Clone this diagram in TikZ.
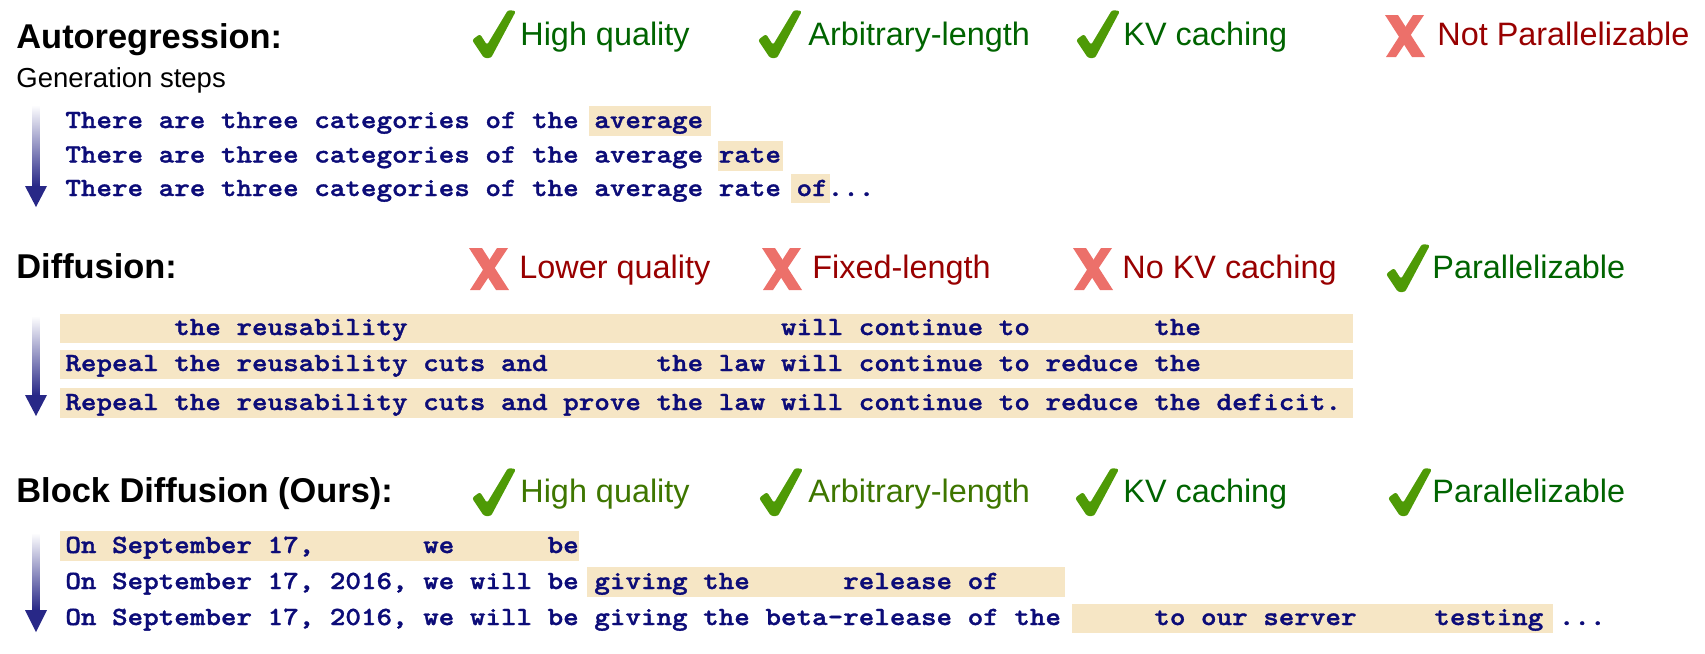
\documentclass[tikz,border=0pt]{standalone}
\usepackage{fontspec}
\setmainfont{Liberation Sans}
\newfontfamily\tokfont{lmmonolt10-bold.otf}[FakeStretch=1.131,FakeBold=1.3,WordSpace={1,0,0},PunctuationSpace=0]

\definecolor{okgreen}{RGB}{78,154,6}
\definecolor{nored}{RGB}{236,112,106}
\definecolor{protext}{RGB}{0,100,0}
\definecolor{olivetext}{RGB}{62,118,0}
\definecolor{context}{RGB}{152,0,0}
\definecolor{hlbox}{RGB}{246,230,197}
\definecolor{tokblue}{RGB}{12,12,120}
\definecolor{arrowblue}{RGB}{40,40,135}

\begin{document}
\begin{tikzpicture}[
    x=0.5pt, y=-0.5pt,
    every node/.style={inner sep=0pt, anchor=base west},
    heading/.style={font=\fontsize{17.2pt}{20pt}\selectfont\bfseries},
    pro/.style={font=\fontsize{16.2pt}{19pt}\selectfont, text=protext},
    con/.style={font=\fontsize{16.2pt}{19pt}\selectfont, text=context},
    tokens/.style={font=\tokfont\fontsize{13.1pt}{15pt}\selectfont\frenchspacing, text=tokblue},
    hl/.style={fill=hlbox},
    okmark/.pic={
        \fill[okgreen, rounded corners=1.2pt] (0,31) -- (8,25) -- (15,36) -- (36,1) -- (44,2) -- (19,49) -- (12,49) -- cycle;
    },
    nomark/.pic={
        \fill[nored] (0,0) -- (13,0) -- (40,42) -- (27,42) -- cycle;
        \fill[nored] (28,0) -- (39,0) -- (11,42) -- (1,42) -- cycle;
    }
]
    \useasboundingbox (0,0) rectangle (1705,654);

    % Autoregression
    \node[heading] (arHead) at (16,48) {Autoregression:};
    \node[font=\fontsize{13.75pt}{16pt}\selectfont] (genSteps) at (16,87) {Generation steps};
    \pic at (472,9) {okmark};   \node[pro] (arQual) at (520,45) {High quality};
    \pic at (758,9) {okmark};   \node[pro] (arLen) at (808,45) {Arbitrary-length};
    \pic at (1076,9) {okmark};  \node[pro] (arKV) at (1123,45) {KV caching};
    \pic at (1385,15) {nomark}; \node[con] (arPar) at (1437,45) {Not Parallelizable};

    \fill[hl] (589,106) rectangle (711,136);
    \fill[hl] (718,141) rectangle (783,171);
    \fill[hl] (791,174) rectangle (830,203);
    \node[tokens] (ar1) at (65,128) {There are three categories of the average};
    \node[tokens] (ar2) at (65,162.5) {There are three categories of the average rate};
    \node[tokens] (ar3) at (65,196) {There are three categories of the average rate of...};

    % Diffusion
    \node[heading] (dfHead) at (16,278) {Diffusion:};
    \pic at (469,248) {nomark};  \node[con] (dfQual) at (519,278) {Lower quality};
    \pic at (762,248) {nomark};  \node[con] (dfLen) at (812,278) {Fixed-length};
    \pic at (1073,248) {nomark}; \node[con] (dfKV) at (1122,278) {No KV caching};
    \pic at (1386,243) {okmark}; \node[pro] (dfPar) at (1432,278) {Parallelizable};

    \fill[hl] (60,314) rectangle (1353,343);
    \fill[hl] (60,350) rectangle (1353,379);
    \fill[hl] (60,388) rectangle (1353,418);
    \node[tokens] (df1) at (65,335) {~~~~~~~the reusability~~~~~~~~~~~~~~~~~~~~~~~~will continue to~~~~~~~~the};
    \node[tokens] (df2) at (65,371) {Repeal the reusability cuts and~~~~~~~the law will continue to reduce the};
    \node[tokens] (df3) at (65,410) {Repeal the reusability cuts and prove the law will continue to reduce the deficit.};

    % Block diffusion
    \node[heading] (bdHead) at (16,502) {Block Diffusion (Ours):};
    \pic at (472,467) {okmark};  \node[pro, text=olivetext] (bdQual) at (520,502) {High quality};
    \pic at (759,467) {okmark};  \node[pro, text=olivetext] (bdLen) at (808,502) {Arbitrary-length};
    \pic at (1075,467) {okmark}; \node[pro] (bdKV) at (1123,502) {KV caching};
    \pic at (1388,467) {okmark}; \node[pro] (bdPar) at (1432,502) {Parallelizable};

    \fill[hl] (60,531) rectangle (579,561);
    \fill[hl] (587,567) rectangle (1065,597);
    \fill[hl] (1072,604) rectangle (1553,633);
    \node[tokens] (bd1) at (65,553) {On September 17,~~~~~~~we~~~~~~be};
    \node[tokens] (bd2) at (65,589) {On September 17, 2016, we will be giving the~~~~~~release of};
    \node[tokens] (bd3) at (65,625) {On September 17, 2016, we will be giving the beta-release of the~~~~~~to our server~~~~~testing ...};

    % Generation step arrows
    \foreach \i/\ya/\yb/\yc in {ar/105/186/207, df/316/395/416, bd/533/610/632} {
        \coordinate (\i top) at (36,\ya);
        \coordinate (\i neck) at (36,\yb);
        \coordinate (\i tip) at (36,\yc);
        \shade[top color=white, bottom color=arrowblue] ([xshift=-1.75pt]\i top) rectangle ([xshift=1.75pt]\i neck);
        \fill[arrowblue] ([xshift=-5.5pt]\i neck) -- ([xshift=5.5pt]\i neck) -- (\i tip) -- cycle;
    }

\end{tikzpicture}
\end{document}
